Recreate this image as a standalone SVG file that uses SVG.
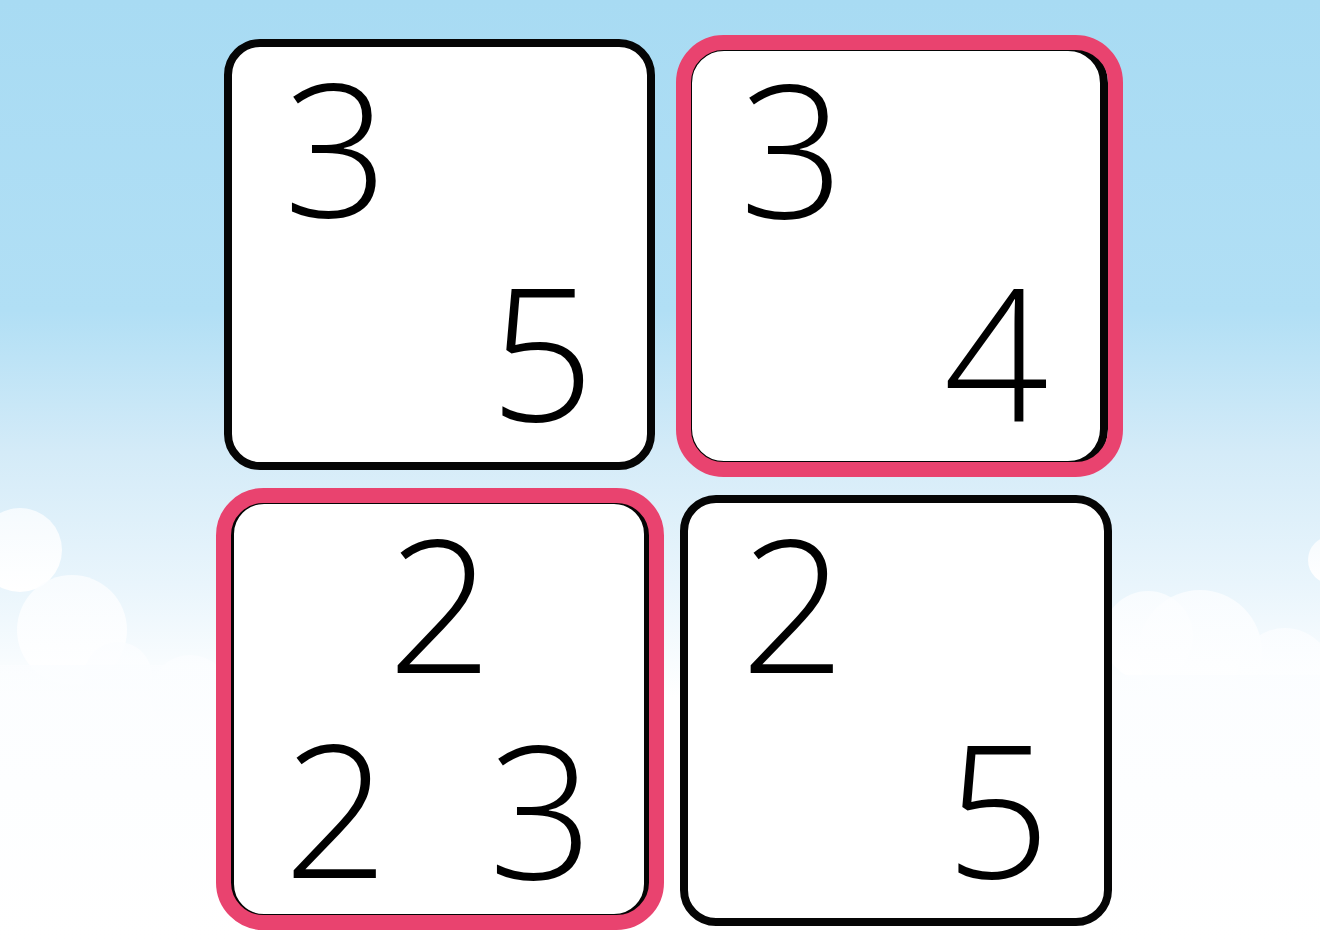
<svg xmlns="http://www.w3.org/2000/svg" width="1320" height="942" viewBox="0 0 1320 942">
  <defs>
    <linearGradient id="sky" x1="0" y1="0" x2="0" y2="1">
      <stop offset="0" stop-color="#a8dbf3"/>
      <stop offset="0.33" stop-color="#b1dff5"/>
      <stop offset="0.48" stop-color="#d4ebf8"/>
      <stop offset="0.62" stop-color="#e9f5fc"/>
      <stop offset="0.74" stop-color="#ffffff"/>
      <stop offset="1" stop-color="#ffffff"/>
    </linearGradient>
    <linearGradient id="cloudfade" x1="0" y1="0" x2="0" y2="1">
      <stop offset="0" stop-color="#fbfdff" stop-opacity="0.8"/>
      <stop offset="1" stop-color="#ffffff" stop-opacity="1"/>
    </linearGradient>
  </defs>
  <style>
    .card { fill: #ffffff; stroke: #050505; stroke-width: 8; }
    .hl { fill: none; stroke: #e9436f; stroke-width: 15; }
    .num { font-family: "Open Sans", "Liberation Sans", sans-serif; font-weight: 300; font-size: 184px; fill: #000000; text-anchor: middle; }
    .cloud { fill: url(#cloudfade); }
  </style>

  <rect id="background" x="0" y="0" width="1320" height="942" fill="url(#sky)"/>

  <g id="clouds">
    <circle class="cloud" cx="20" cy="550" r="42"/>
    <circle class="cloud" cx="72" cy="630" r="55"/>
    <circle class="cloud" cx="118" cy="676" r="34"/>
    <circle class="cloud" cx="190" cy="695" r="40"/>
    <rect class="cloud" x="0" y="665" width="230" height="277"/>
    <circle class="cloud" cx="1148" cy="636" r="45"/>
    <circle class="cloud" cx="1200" cy="652" r="62"/>
    <circle class="cloud" cx="1285" cy="676" r="48"/>
    <circle class="cloud" cx="1332" cy="560" r="24"/>
    <rect class="cloud" x="1110" y="675" width="210" height="267"/>
  </g>

  <g id="card1">
    <rect class="card" x="228" y="43" width="423" height="423" rx="32"/>
    <text class="num" x="336" y="217">3</text>
    <text class="num" x="542" y="421">5</text>
  </g>

  <g id="card2">
    <rect class="card" x="688" y="47" width="416" height="418" rx="36" stroke-width="6"/>
    <rect class="hl" x="683.5" y="42.5" width="432" height="427" rx="40"/>
    <text class="num" x="792" y="218">3</text>
    <text class="num" x="996" y="422">4</text>
  </g>

  <g id="card3">
    <rect class="card" x="230" y="500" width="418" height="418" rx="34" stroke-width="6"/>
    <rect class="hl" x="223.5" y="495.5" width="433" height="427" rx="40"/>
    <text class="num" x="440" y="673">2</text>
    <text class="num" x="336" y="878">2</text>
    <text class="num" x="541" y="879">3</text>
  </g>

  <g id="card4">
    <rect class="card" x="684" y="499" width="424" height="423" rx="32"/>
    <text class="num" x="793" y="673">2</text>
    <text class="num" x="998" y="878">5</text>
  </g>

  <g id="connectors"></g>
</svg>
